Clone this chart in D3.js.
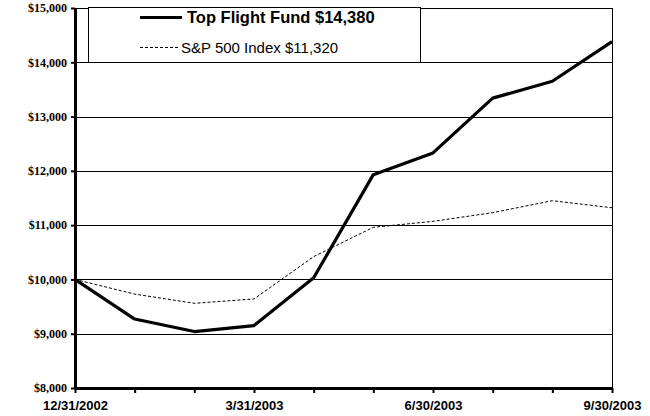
<!DOCTYPE html>
<html>
<head>
<meta charset="utf-8">
<script src="https://cdn.jsdelivr.net/npm/d3@7"></script>
<style>
  body { margin: 0; background: #fff; }
  svg { display: block; }
</style>
</head>
<body>
<div id="chart"></div>
<script>
// month-end dates, Dec 2002 to Sep 2003
const dates = ["12/31/2002", "1/31/2003", "2/28/2003", "3/31/2003", "4/30/2003",
               "5/31/2003", "6/30/2003", "7/31/2003", "8/31/2003", "9/30/2003"];
const labeledDates = ["12/31/2002", "3/31/2003", "6/30/2003", "9/30/2003"];
const fundValues = [10000, 9270, 9040, 9150, 10030, 11930, 12330, 13340, 13650, 14380];
const spValues   = [10000, 9730, 9560, 9640, 10420, 10960, 11070, 11230, 11450, 11320];
const yTicks = [8000, 9000, 10000, 11000, 12000, 13000, 14000, 15000];
const seriesNames = ["Top Flight Fund $14,380", "S&P 500 Index $11,320"];

let margin = ({top: 8, right: 38, bottom: 28, left: 75});
let width = 650 - margin.left - margin.right;
let height = 416 - margin.top - margin.bottom;

let svg = d3.select("#chart")
    .append("svg")
        .attr("width", 650)
        .attr("height", 416)
    .append("g")
        .attr("transform", "translate(" + margin.left + "," + margin.top + ")");

let x = d3.scalePoint()
    .domain(dates)
    .range([0, width]);

let y = d3.scaleLinear()
    .domain([8000, 15000])
    .range([height, 0]);

// gridlines (snapped to whole pixels so they stay crisp)
svg.append("g")
    .selectAll("line")
    .data(yTicks)
    .enter().append("line")
        .attr("x1", 0)
        .attr("x2", width)
        .attr("y1", d => Math.round(y(d)) + 0.5)
        .attr("y2", d => Math.round(y(d)) + 0.5)
        .attr("stroke", "#000")
        .attr("stroke-width", 1)
        .attr("shape-rendering", "crispEdges");

// right border
svg.append("line")
    .attr("x1", width + 0.5).attr("x2", width + 0.5)
    .attr("y1", 0).attr("y2", height)
    .attr("stroke", "#000")
    .attr("shape-rendering", "crispEdges");

// y axis
let yaxis = svg.append("g")
    .call(d3.axisLeft(y).tickValues(yTicks).tickSize(4).tickSizeOuter(0)
        .tickFormat(d => "$" + d3.format(",")(d)));
yaxis.select(".domain").attr("stroke-width", 3);
yaxis.selectAll(".tick line").attr("stroke-width", 2);
yaxis.selectAll(".tick text")
    .attr("x", -8)
    .attr("font-family", "Liberation Serif")
    .attr("font-weight", "bold")
    .attr("font-size", "12px")
    .attr("fill", "#000");

// x axis
let xaxis = svg.append("g")
    .attr("transform", "translate(0," + height + ")")
    .call(d3.axisBottom(x).tickSize(5).tickSizeOuter(0)
        .tickFormat(d => labeledDates.includes(d) ? d : ""));
xaxis.select(".domain").attr("stroke-width", 3);
xaxis.selectAll(".tick line").attr("stroke-width", 2);
xaxis.selectAll(".tick text")
    .attr("y", 13)
    .attr("font-family", "Liberation Sans")
    .attr("font-weight", "bold")
    .attr("font-size", "13px")
    .attr("fill", "#000");

let line = d3.line()
    .x((d, i) => x(dates[i]))
    .y(d => y(d));

// S&P 500 dashed line
svg.append("path")
    .datum(spValues)
    .attr("fill", "none")
    .attr("stroke", "#000")
    .attr("stroke-width", 1)
    .attr("stroke-dasharray", "3,2")
    .attr("d", line);

// fund line
svg.append("path")
    .datum(fundValues)
    .attr("fill", "none")
    .attr("stroke", "#000")
    .attr("stroke-width", 3.2)
    .attr("stroke-linejoin", "round")
    .attr("d", line);

// legend
let legend = d3.select("svg").append("g");
legend.append("rect")
    .attr("x", 88.5).attr("y", 7.5)
    .attr("width", 332).attr("height", 55)
    .attr("fill", "#fff")
    .attr("stroke", "#000")
    .attr("shape-rendering", "crispEdges");

legend.append("line")
    .attr("x1", 140).attr("x2", 182)
    .attr("y1", 17.5).attr("y2", 17.5)
    .attr("stroke", "#000").attr("stroke-width", 3);
legend.append("text")
    .attr("x", 187).attr("y", 23)
    .attr("font-family", "Liberation Sans")
    .attr("font-weight", "bold")
    .attr("font-size", "16.5px")
    .text(seriesNames[0]);

legend.append("line")
    .attr("x1", 140).attr("x2", 178)
    .attr("y1", 47.5).attr("y2", 47.5)
    .attr("stroke", "#000").attr("stroke-width", 1)
    .attr("stroke-dasharray", "3,2");
legend.append("text")
    .attr("x", 181).attr("y", 53)
    .attr("font-family", "Liberation Sans")
    .attr("font-size", "15px")
    .text(seriesNames[1]);
</script>
</body>
</html>
